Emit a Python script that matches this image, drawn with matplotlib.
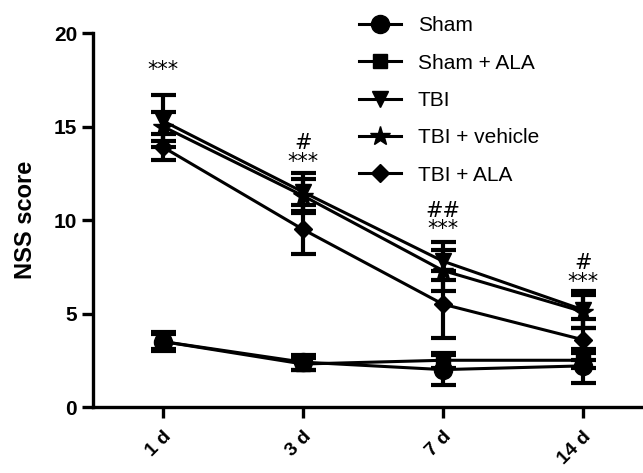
import numpy as np
import matplotlib.pyplot as plt

plt.rcParams['font.family'] = ['Liberation Sans', 'DejaVu Sans']

# time points
days = ['1 d', '3 d', '7 d', '14 d']

# NSS score means and error bars for each group
sham = [3.5, 2.4, 2.0, 2.2]
sham_err = [0.5, 0.4, 0.8, 0.9]
sham_ala = [3.5, 2.3, 2.5, 2.5]
sham_ala_err = [0.4, 0.3, 0.4, 0.4]
tbi = [15.3, 11.5, 7.8, 5.2]
tbi_err = [1.4, 1.0, 1.0, 1.0]
tbi_vehicle = [15.0, 11.3, 7.3, 5.1]
tbi_vehicle_err = [0.8, 0.9, 1.1, 0.9]
tbi_ala = [13.9, 9.5, 5.5, 3.6]
tbi_ala_err = [0.7, 1.3, 1.8, 1.1]

# significance marks above each time point
sig_stars = ['***', '***', '***', '***']
sig_hash = ['', '#', '##', '#']
sig_y = [18.0, 13.1, 9.5, 6.7]

fig = plt.figure(figsize=(6.43, 4.73), dpi=100)
ax = fig.add_axes([0.1446, 0.1395, 0.8554, 0.7907])

x = np.arange(len(days))
groups = [
    ('Sham', sham, sham_err, 'o', 13),
    ('Sham + ALA', sham_ala, sham_ala_err, 's', 10),
    ('TBI', tbi, tbi_err, 'v', 11),
    ('TBI + vehicle', tbi_vehicle, tbi_vehicle_err, '*', 15),
    ('TBI + ALA', tbi_ala, tbi_ala_err, 'D', 9),
]
handles = []
names = []
for name, vals, err, m, ms in groups:
    c = ax.errorbar(x, vals, yerr=err, color='black', marker=m, markersize=ms,
                    linewidth=2.2, elinewidth=3, capsize=9, capthick=3)
    handles.append(c[0])
    names.append(name)

for i in range(len(days)):
    ax.text(x[i], sig_y[i], sig_stars[i], ha='center', va='center',
            fontsize=15, family='DejaVu Sans')
    if sig_hash[i]:
        ax.text(x[i], sig_y[i] + 1.0, sig_hash[i], ha='center', va='center',
                fontsize=15, family='DejaVu Sans')

ax.set_xlim(-0.5, 3.43)
ax.set_ylim(0, 20)
ax.set_yticks([0, 5, 10, 15, 20])
ax.set_xticks(x)
ax.set_xticklabels(days, rotation=45, ha='right', rotation_mode='anchor')
ax.set_ylabel('NSS score', fontsize=17, fontweight='bold', labelpad=12)
for lab in ax.get_yticklabels():
    lab.set_fontweight('bold')
    lab.set_fontsize(15)
for lab in ax.get_xticklabels():
    lab.set_fontweight('bold')
    lab.set_fontsize(14)

ax.spines['top'].set_visible(False)
ax.spines['right'].set_visible(False)
ax.spines['left'].set_linewidth(2.4)
ax.spines['bottom'].set_linewidth(2.4)
ax.tick_params(width=2.4, length=8)
ax.tick_params(axis='x', pad=7)

ax.legend(handles, names, loc='upper left', bbox_to_anchor=(0.45, 1.095),
          frameon=False, fontsize=15, handlelength=2.0, labelspacing=0.88,
          handletextpad=0.8)

fig.savefig('out.png', dpi=100)
